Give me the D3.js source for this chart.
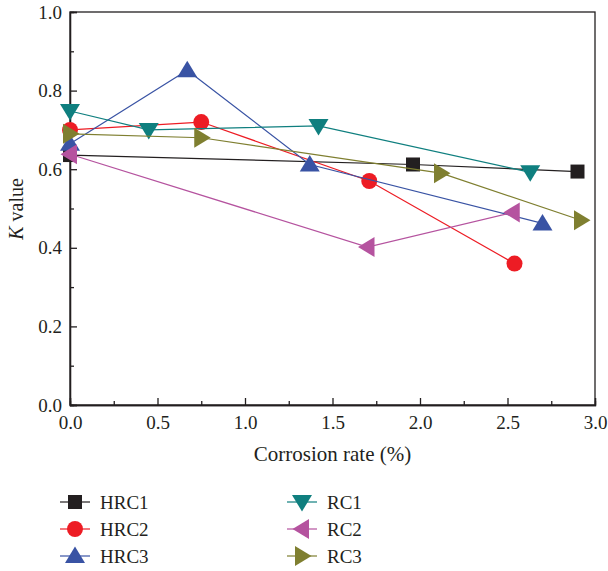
<!DOCTYPE html>
<html>
<head>
<meta charset="utf-8">
<script src="https://cdn.jsdelivr.net/npm/d3@7"></script>
<style>
  body { margin: 0; background: #fff; }
</style>
</head>
<body>
<div id="chart"></div>
<script>
// corrosion rate (%) vs K value for each beam
const seriesNames = ["HRC1", "HRC2", "HRC3", "RC1", "RC2", "RC3"];
const hrc1 = [[0, 0.636], [1.96, 0.612], [2.90, 0.594]];
const hrc2 = [[0, 0.700], [0.75, 0.720], [1.71, 0.570], [2.54, 0.360]];
const hrc3 = [[0, 0.665], [0.67, 0.852], [1.37, 0.612], [2.70, 0.462]];
const rc1 = [[0, 0.748], [0.45, 0.700], [1.42, 0.710], [2.63, 0.592]];
const rc2 = [[0, 0.638], [1.70, 0.402], [2.53, 0.490]];
const rc3 = [[0, 0.690], [0.75, 0.680], [2.12, 0.590], [2.92, 0.470]];
const seriesData = [hrc1, hrc2, hrc3, rc1, rc2, rc3];

const xTicks = [0, 0.5, 1.0, 1.5, 2.0, 2.5, 3.0];
const yTicks = [0, 0.2, 0.4, 0.6, 0.8, 1.0];

const colors = ["#231f20", "#ed1c24", "#3953a4", "#0f7f7f", "#b5539f", "#7f7f30"];
const shapes = ["square", "circle", "up", "down", "left", "right"];
const fontFamily = "'Liberation Serif', 'Times New Roman', 'DejaVu Serif', serif";

const layout = {
  width: 608,
  height: 571,
  left: 70,
  right: 595,
  top: 12,
  bottom: 405
};

const svg = d3.select("#chart").append("svg")
  .attr("width", layout.width)
  .attr("height", layout.height)
  .attr("font-family", fontFamily);

const x = d3.scaleLinear().domain([0, 3]).range([layout.left, layout.right]);
const y = d3.scaleLinear().domain([0, 1]).range([layout.bottom, layout.top]);

// marker path, centred on 0,0
function markerPath(shape) {
  const w = 10, a = 9.5, b = 7;
  if (shape === "square") return "M-7,-7H7V7H-7Z";
  if (shape === "circle") return d3.symbol(d3.symbolCircle, 200)();
  if (shape === "up") return `M0,${-a}L${w},${b}L${-w},${b}Z`;
  if (shape === "down") return `M0,${a}L${w},${-b}L${-w},${-b}Z`;
  if (shape === "left") return `M${-a},0L${b},${-w}L${b},${w}Z`;
  return `M${a},0L${-b},${-w}L${-b},${w}Z`;
}

// axes, ticks point inward
const xAxis = svg.append("g")
  .attr("transform", `translate(0,${layout.bottom})`)
  .call(d3.axisBottom(x).tickValues(xTicks).tickSize(-7).tickPadding(11).tickFormat(d3.format(".1f")));
svg.append("g")
  .attr("transform", `translate(0,${layout.bottom})`)
  .call(d3.axisBottom(x).tickValues(d3.range(0.25, 3, 0.5)).tickSize(-4).tickFormat(""));

const yAxis = svg.append("g")
  .attr("transform", `translate(${layout.left},0)`)
  .call(d3.axisLeft(y).tickValues(yTicks).tickSize(-7).tickPadding(8).tickFormat(d3.format(".1f")));
svg.append("g")
  .attr("transform", `translate(${layout.left},0)`)
  .call(d3.axisLeft(y).tickValues(d3.range(0.1, 1, 0.2)).tickSize(-4).tickFormat(""));

svg.selectAll("g").attr("font-family", fontFamily);
svg.selectAll(".tick text").attr("font-size", 19).attr("fill", "#231f20");
svg.selectAll(".tick line, .domain").attr("stroke", "#231f20").attr("stroke-width", 1.3);

// box
svg.append("rect")
  .attr("x", layout.left).attr("y", layout.top)
  .attr("width", layout.right - layout.left)
  .attr("height", layout.bottom - layout.top)
  .attr("fill", "none")
  .attr("stroke", "#231f20")
  .attr("stroke-width", 1.3);

// axis titles
svg.append("text")
  .attr("x", (layout.left + layout.right) / 2)
  .attr("y", 461)
  .attr("text-anchor", "middle")
  .attr("font-size", 21)
  .attr("fill", "#231f20")
  .text("Corrosion rate (%)");

const yTitle = svg.append("text")
  .attr("transform", `translate(23,209) rotate(-90)`)
  .attr("text-anchor", "middle")
  .attr("font-size", 20)
  .attr("fill", "#231f20");
yTitle.append("tspan").attr("font-style", "italic").text("K");
yTitle.append("tspan").text(" value");

// series
const line = d3.line().x(d => x(d[0])).y(d => y(d[1]));
seriesData.forEach((pts, i) => {
  svg.append("path")
    .datum(pts)
    .attr("d", line)
    .attr("fill", "none")
    .attr("stroke", colors[i])
    .attr("stroke-width", 1.2);
  svg.append("g").selectAll("path").data(pts).join("path")
    .attr("transform", d => `translate(${x(d[0])},${y(d[1])})`)
    .attr("d", markerPath(shapes[i]))
    .attr("fill", colors[i]);
});

// legend
const legendRows = [502, 529, 556];
seriesNames.forEach((name, i) => {
  const col = Math.floor(i / 3);
  const lx = col === 0 ? 60 : 287;
  const ly = legendRows[i % 3];
  const g = svg.append("g").attr("transform", `translate(${lx},${ly})`);
  g.append("line")
    .attr("x1", 0).attr("x2", 30)
    .attr("stroke", colors[i]).attr("stroke-width", 1.2);
  g.append("path")
    .attr("transform", "translate(15,0)")
    .attr("d", markerPath(shapes[i]))
    .attr("fill", colors[i]);
  g.append("text")
    .attr("x", 40)
    .attr("dy", "0.35em")
    .attr("font-size", 19)
    .attr("fill", "#231f20")
    .text(name);
});
</script>
</body>
</html>
